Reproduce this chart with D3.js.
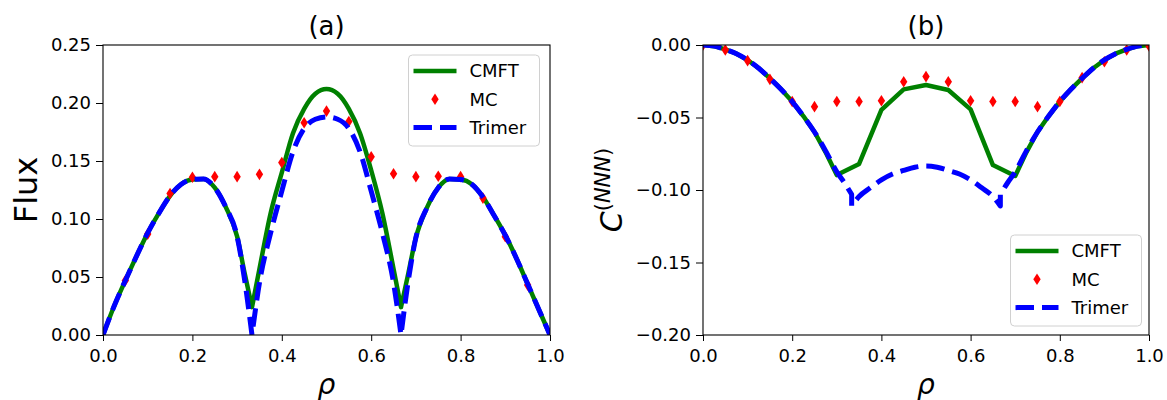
<!DOCTYPE html>
<html>
<head>
<meta charset="utf-8">
<script src="https://cdn.jsdelivr.net/npm/d3@7"></script>
<style>
  body { margin: 0; background: #fff; }
  svg text { font-family: "DejaVu Sans", sans-serif; fill: #000; }
</style>
</head>
<body>
<div id="visualisationContainer"></div>
<script>
// panel (a): flux
var rhoA = [0, 0.025, 0.05, 0.075, 0.1, 0.125, 0.15, 0.175, 0.2, 0.225, 0.25, 0.275, 0.3, 0.317, 0.3333,
            0.35, 0.375, 0.4, 0.425, 0.45, 0.475, 0.5, 0.525, 0.55, 0.575, 0.6, 0.625, 0.65, 0.6667,
            0.683, 0.7, 0.725, 0.75, 0.775, 0.8, 0.825, 0.85, 0.875, 0.9, 0.925, 0.95, 0.975, 1.0];
var cmftA = [0, 0.025, 0.047, 0.068, 0.088, 0.105, 0.120, 0.130, 0.134, 0.1345, 0.127, 0.110, 0.085, 0.053, 0.024,
             0.057, 0.105, 0.140, 0.174, 0.195, 0.208, 0.212, 0.208, 0.195, 0.174, 0.142, 0.105, 0.057, 0.024,
             0.053, 0.084, 0.110, 0.127, 0.1345, 0.134, 0.130, 0.119, 0.103, 0.086, 0.066, 0.044, 0.022, 0];
var trimerA = [0, 0.025, 0.047, 0.068, 0.088, 0.105, 0.120, 0.130, 0.134, 0.1345, 0.127, 0.110, 0.085, 0.047, 0,
               0.045, 0.088, 0.124, 0.158, 0.178, 0.186, 0.188, 0.186, 0.178, 0.158, 0.124, 0.088, 0.045, 0,
               0.047, 0.084, 0.110, 0.127, 0.1345, 0.134, 0.130, 0.119, 0.103, 0.086, 0.066, 0.044, 0.022, 0];
var rhoMcA = [0.05, 0.1, 0.15, 0.2, 0.25, 0.3, 0.35, 0.4, 0.45, 0.5, 0.55, 0.6, 0.65, 0.7, 0.75, 0.8, 0.85, 0.9, 0.95];
var mcA = [0.047, 0.087, 0.122, 0.136, 0.1365, 0.1365, 0.1385, 0.1486, 0.183, 0.193, 0.184, 0.1537, 0.139, 0.1365,
           0.1368, 0.1365, 0.118, 0.0848, 0.043];
var cuspsA = [14, 28];   // indices where the flux curves have a cusp

// panel (b): C^(NNN)
var rhoCmftB = [0, 0.025, 0.05, 0.075, 0.1, 0.125, 0.15, 0.175, 0.2, 0.225, 0.25, 0.275, 0.3, 0.35, 0.4, 0.45, 0.5,
                0.55, 0.6, 0.65, 0.7, 0.725, 0.75, 0.775, 0.8, 0.825, 0.85, 0.875, 0.9, 0.925, 0.95, 0.975, 1.0];
var cmftB = [0, -0.0008, -0.003, -0.006, -0.0103, -0.016, -0.023, -0.0305, -0.039, -0.049, -0.060, -0.074, -0.0897,
             -0.082, -0.0448, -0.0306, -0.0276, -0.031, -0.0444, -0.0828, -0.0903, -0.074, -0.060, -0.049, -0.039,
             -0.0305, -0.023, -0.016, -0.0103, -0.006, -0.003, -0.0008, 0];
var rhoTrimerB = [0, 0.025, 0.05, 0.075, 0.1, 0.125, 0.15, 0.175, 0.2, 0.225, 0.25, 0.275, 0.3, 0.317, 0.3333, 0.3333,
                  0.35, 0.375, 0.4, 0.425, 0.45, 0.475, 0.5, 0.525, 0.55, 0.575, 0.6, 0.625, 0.65, 0.6667, 0.6667,
                  0.683, 0.7, 0.725, 0.75, 0.775, 0.8, 0.825, 0.85, 0.875, 0.9, 0.925, 0.95, 0.975, 1.0];
var trimerB = [0, -0.0008, -0.003, -0.006, -0.0103, -0.016, -0.023, -0.0305, -0.039, -0.049, -0.060, -0.073, -0.0875,
               -0.095, -0.103, -0.111, -0.1045, -0.0985, -0.093, -0.089, -0.0865, -0.0843, -0.0834, -0.0843, -0.0865,
               -0.089, -0.093, -0.0985, -0.1045, -0.111, -0.103, -0.095, -0.0875, -0.073, -0.060, -0.049, -0.039,
               -0.0305, -0.023, -0.016, -0.0103, -0.006, -0.003, -0.0008, 0];
var jumpsB = [15, 30];   // trimer branch starts after the jumps
var rhoMcB = [0, 0.05, 0.1, 0.15, 0.2, 0.25, 0.3, 0.35, 0.4, 0.45, 0.5, 0.55, 0.6, 0.65, 0.7, 0.75, 0.8, 0.85, 0.9, 0.95, 1.0];
var mcB = [0, -0.0034, -0.0108, -0.0237, -0.039, -0.0425, -0.039, -0.039, -0.0384, -0.0253, -0.0218, -0.0253, -0.0384,
           -0.039, -0.039, -0.0425, -0.039, -0.0225, -0.0115, -0.0034, -0.0007];

var xTicks = [0, 0.2, 0.4, 0.6, 0.8, 1.0];
var yTicksA = [0, 0.05, 0.10, 0.15, 0.20, 0.25];
var yTicksB = [-0.20, -0.15, -0.10, -0.05, 0.00];
var legendNames = ["CMFT", "MC", "Trimer"];

var svg = d3.select("#visualisationContainer")
            .append("svg")
            .attr("width", 1167)
            .attr("height", 400);

function zip(xs, ys) {
    return xs.map((x, i) => ({x: x, y: ys[i]}));
}

// cut a series into pieces; shared=true repeats the cut point in both pieces
function pieces(data, cuts, shared) {
    var out = [], start = 0;
    cuts.forEach(c => {
        out.push(data.slice(start, shared ? c + 1 : c));
        start = c;
    });
    out.push(data.slice(start));
    return out;
}

// one continuous path through smooth pieces (so the dashes keep running)
function smoothPath(parts, x, y) {
    var gen = d3.line().x(d => x(d.x)).y(d => y(d.y)).curve(d3.curveMonotoneX);
    return parts.map((p, i) => {
        var s = gen(p);
        return i == 0 ? s : "L" + s.slice(1);
    }).join("");
}

// thin diamond like matplotlib 'd'
var diamondPath = "M0,-5.8L3.7,0L0,5.8L-3.7,0Z";

function drawPanel(opt) {
    var left = opt.left, right = opt.right, top = 45, bottom = 335;
    var x = d3.scaleLinear().domain([0, 1]).range([left, right]);
    var y = d3.scaleLinear().domain(opt.yDomain).range([bottom, top]);

    var clipId = "clip" + opt.name;
    svg.append("clipPath").attr("id", clipId)
        .append("rect")
        .attr("x", left).attr("y", top)
        .attr("width", right - left).attr("height", bottom - top);

    var plot = svg.append("g").attr("clip-path", `url(#${clipId})`);
    var line = d3.line().x(d => x(d.x)).y(d => y(d.y));

    plot.append("path")
        .attr("fill", "none")
        .attr("stroke", "green")
        .attr("stroke-width", 4.5)
        .attr("stroke-linejoin", "round")
        .attr("d", opt.cmftSmooth ? smoothPath(opt.cmft, x, y) : line(opt.cmft));

    plot.selectAll(".mc")
        .data(opt.mc)
        .enter()
        .append("path")
        .attr("d", diamondPath)
        .attr("fill", "red")
        .attr("transform", d => `translate(${x(d.x)},${y(d.y)})`);

    plot.append("path")
        .attr("fill", "none")
        .attr("stroke", "blue")
        .attr("stroke-width", 5)
        .attr("stroke-dasharray", "18.5 8")
        .attr("stroke-linejoin", "round")
        .attr("d", smoothPath(opt.trimer, x, y));

    // axes
    var xAx = svg.append("g")
        .attr("transform", `translate(0, ${bottom})`)
        .call(d3.axisBottom(x).tickValues(xTicks).tickFormat(d3.format(".1f"))
              .tickSize(6).tickPadding(8));
    var yAx = svg.append("g")
        .attr("transform", `translate(${left}, 0)`)
        .call(d3.axisLeft(y).tickValues(opt.yTicks).tickFormat(d3.format(".2f"))
              .tickSize(7).tickPadding(5));
    [xAx, yAx].forEach(g => {
        g.selectAll("text").style("font-size", "18px").attr("fill", "#000");
        g.selectAll("line").attr("stroke", "#000");
        g.select(".domain").remove();
    });

    // frame
    svg.append("rect")
        .attr("x", left).attr("y", top)
        .attr("width", right - left).attr("height", bottom - top)
        .attr("fill", "none").attr("stroke", "#000").attr("stroke-width", 1.1);

    // title
    svg.append("text")
        .attr("x", (left + right) / 2).attr("y", 35)
        .attr("text-anchor", "middle")
        .style("font-size", "26px")
        .text(opt.title);

    // x label
    svg.append("text")
        .attr("x", (left + right) / 2).attr("y", 394)
        .attr("text-anchor", "middle")
        .style("font-size", "28px")
        .style("font-style", "italic")
        .text("ρ");

    // legend
    var lg = svg.append("g").attr("transform", `translate(${opt.legend[0]}, ${opt.legend[1]})`);
    lg.append("rect")
        .attr("x", 0).attr("y", 0).attr("width", 131).attr("height", 91)
        .attr("rx", 4)
        .attr("fill", "#fff").attr("fill-opacity", 0.8)
        .attr("stroke", "#d0d0d0").attr("stroke-width", 1);
    legendNames.forEach((name, i) => {
        var yy = 16 + i * 28.3;
        if (i == 0) {
            lg.append("line").attr("x1", 5).attr("x2", 48).attr("y1", yy).attr("y2", yy)
              .attr("stroke", "green").attr("stroke-width", 4.5);
        } else if (i == 1) {
            lg.append("path").attr("d", diamondPath).attr("fill", "red")
              .attr("transform", `translate(26.5, ${yy})`);
        } else {
            lg.append("line").attr("x1", 5).attr("x2", 48).attr("y1", yy).attr("y2", yy)
              .attr("stroke", "blue").attr("stroke-width", 5).attr("stroke-dasharray", "18.5 8");
        }
        lg.append("text")
          .attr("x", 61).attr("y", yy)
          .attr("dy", "0.36em")
          .style("font-size", "18px")
          .text(name);
    });
}

drawPanel({
    name: "a", left: 103, right: 550, yDomain: [0, 0.25], yTicks: yTicksA, title: "(a)",
    cmft: pieces(zip(rhoA, cmftA), cuspsA, true), cmftSmooth: true,
    trimer: pieces(zip(rhoA, trimerA), cuspsA, true),
    mc: zip(rhoMcA, mcA),
    legend: [408.5, 55]
});

drawPanel({
    name: "b", left: 703, right: 1149, yDomain: [-0.2, 0], yTicks: yTicksB, title: "(b)",
    cmft: zip(rhoCmftB, cmftB), cmftSmooth: false,
    trimer: pieces(zip(rhoTrimerB, trimerB), jumpsB, false),
    mc: zip(rhoMcB, mcB),
    legend: [1010.5, 235]
});

// y labels
svg.append("text")
    .attr("transform", "translate(36.5, 190) rotate(-90)")
    .attr("text-anchor", "middle")
    .style("font-size", "32px")
    .text("Flux");

var cLab = svg.append("text")
    .attr("transform", "translate(622, 190) rotate(-90)")
    .attr("text-anchor", "middle")
    .style("font-size", "30px");
cLab.append("tspan").style("font-style", "italic").text("C");
var sup = cLab.append("tspan").attr("dy", -12).style("font-size", "21px");
sup.append("tspan").text("(");
sup.append("tspan").style("font-style", "italic").text("NNN");
sup.append("tspan").text(")");
</script>
</body>
</html>
